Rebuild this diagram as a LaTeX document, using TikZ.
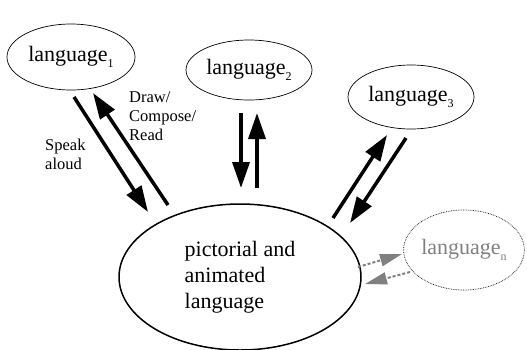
\documentclass[tikz,border=0pt]{standalone}
\usepackage{fontspec}
\setmainfont{Liberation Serif}
\usepackage{tikz}
\usetikzlibrary{arrows.meta,shapes.geometric}

\newcommand{\lsub}[1]{\raisebox{-0.3em}{\fontsize{12}{12}\selectfont #1}}

\tikzset{
	lang/.style={ellipse, draw, line width=0.7pt, inner sep=0pt, font=\fontsize{22}{26}\selectfont},
	bigarrow/.style={line width=3.5pt, -{Triangle[length=26pt,width=17pt]}},
	greyarrow/.style={gray, line width=2pt, dash pattern=on 3pt off 2pt, -{Triangle[length=22pt,width=12pt]}},
	lbl/.style={align=left, inner sep=0pt, font=\fontsize{16.5}{19}\selectfont}
}

\begin{document}
\begin{tikzpicture}[x=1pt,y=-1pt]
	\useasboundingbox (0,0) rectangle (527,349);
	% languages
	\node[lang, minimum width=128pt, minimum height=66pt] (lang1) at (71,57) {language\lsub{1}};
	\node[lang, minimum width=126pt, minimum height=60pt] (lang2) at (249,70) {language\lsub{2}};
	\node[lang, minimum width=126pt, minimum height=64pt] (lang3) at (411,97) {language\lsub{3}};
	\node[lang, densely dotted, text=gray, minimum width=120pt, minimum height=80pt] (langn) at (464,250) {language\lsub{n}};
	\node[lang, line width=1.5pt, align=left, minimum width=242pt, minimum height=146pt] (pict) at (240,277) {pictorial and\\animated\\language};
	% labels
	\node[lbl, anchor=west] (drawlbl) at (129,116) {Draw/\\Compose/\\Read};
	\node[lbl, anchor=west] (speaklbl) at (45,154) {Speak\\aloud};
	% arrows
	\draw[bigarrow] ([shift={(3,40)}]lang1.center) -- ([shift={(-92,-65)}]pict.center);
	\draw[bigarrow] ([shift={(-72,-72)}]pict.center) -- ([shift={(22,36)}]lang1.center);
	\draw[bigarrow] ([shift={(-8,43)}]lang2.center) -- ([shift={(1,-89)}]pict.center);
	\draw[bigarrow] ([shift={(17,-89)}]pict.center) -- ([shift={(8,43)}]lang2.center);
	\draw[bigarrow] ([shift={(93,-59)}]pict.center) -- ([shift={(-24,38)}]lang3.center);
	\draw[bigarrow] ([shift={(-5,41)}]lang3.center) -- ([shift={(110,-54)}]pict.center);
	\draw[greyarrow] ([shift={(118,-10)}]pict.center) -- ([shift={(-62,4)}]langn.center);
	\draw[greyarrow] ([shift={(-54,22)}]langn.center) -- ([shift={(125,7)}]pict.center);
\end{tikzpicture}
\end{document}
